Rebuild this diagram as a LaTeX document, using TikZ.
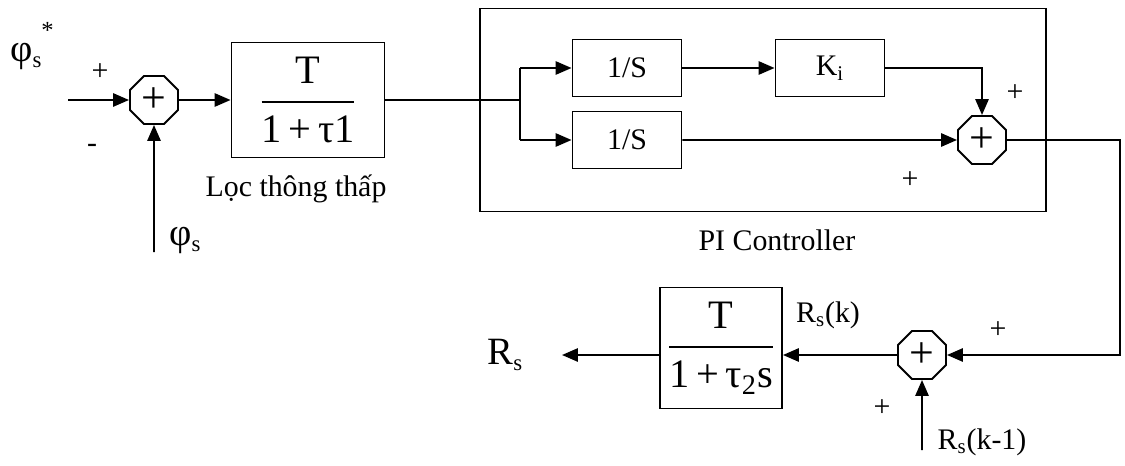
\documentclass[tikz,border=0pt]{standalone}
\usepackage{amsmath}
\usepackage{fontspec}
\setmainfont{Liberation Serif}
\usetikzlibrary{arrows.meta, shapes.geometric}

\begin{document}
\begin{tikzpicture}[
  x=0.02cm, y=-0.02cm,
  box/.style={draw, line width=1.1pt, minimum width=2.18cm, minimum height=1.14cm,
              inner sep=0pt, font=\fontsize{17}{20}\selectfont},
  fracbox/.style={draw, line width=1.1pt, inner sep=0pt, font=\fontsize{23}{27}\selectfont},
  sumnode/.style={draw, line width=1.1pt, regular polygon, regular polygon sides=8,
                  minimum size=1.04cm, inner sep=0pt, font=\fontsize{25}{25}\selectfont},
  arr/.style={-{Triangle[length=9pt, width=7.5pt]}, line width=1.1pt},
  wire/.style={line width=0.8pt},
  sgn/.style={font=\fontsize{17}{17}\selectfont, inner sep=0pt},
  lbl/.style={font=\fontsize{17}{20}\selectfont, inner sep=0pt}
]
\useasboundingbox (0,0) rectangle (1125,466);

% ── INPUT + LOW-PASS FILTER ───────────────────────────────────────────────────
\node[sumnode] (s1) at (154,100) {+};
\coordinate (ref) at (68,100);
\coordinate (meas) at (154,252);

\node[fracbox, minimum width=3.06cm, minimum height=2.3cm] (lpf) at (308,100)
  {$\displaystyle\genfrac{}{}{1pt}{0}{\text{T}}{\text{1\,+\,τ1}}$};
\node[lbl] (lpflbl) at (296,189) {Lọc thông thấp};

\node[font=\fontsize{22}{26}\selectfont, inner sep=0pt] (phiref) at (32,46)
  {φ\raisebox{-0.35ex}{\fontsize{13}{13}\selectfont s}\raisebox{1.3ex}{\fontsize{14}{14}\selectfont *}};
\node[font=\fontsize{22}{26}\selectfont, inner sep=0pt] (phimeas) at (185,240)
  {φ\raisebox{-0.35ex}{\fontsize{13}{13}\selectfont s}};
\node[sgn] (p1) at (100,72) {+};
\node[sgn] (m1) at (92,148) {-};

\draw[arr] (ref) -- (s1.west);
\draw[arr] (meas) -- (s1.south);
\draw[arr] (s1.east) -- (lpf.west);

% ── PI CONTROLLER ─────────────────────────────────────────────────────────────
\node[draw, line width=1.1pt, minimum width=11.32cm, minimum height=4.06cm] (pi) at (763,110) {};
\node[lbl] (pilbl) at (777,240) {PI Controller};

\node[box] (int1) at (627,68) {1/S};
\node[box] (int2) at (627,140) {1/S};
\node[box] (ki)   at (830,68) {K\textsubscript{i}};
\node[sumnode] (s2) at (982,140) {+};
\node[sgn] (p2) at (1015,93) {+};
\node[sgn] (p3) at (910,180) {+};

\coordinate (br)    at (520,100);
\coordinate (brtop) at (520,68);
\coordinate (brbot) at (520,140);

\draw[wire] (lpf.east) -- (br);
\draw[wire] (brtop) -- (brbot);
\draw[arr] (brtop) -- (int1.west);
\draw[arr] (brbot) -- (int2.west);
\draw[arr] (int1.east) -- (ki.west);
\draw[arr] (ki.east) -| (s2.north);
\draw[arr] (int2.east) -- (s2.west);

% ── OUTPUT FILTER ─────────────────────────────────────────────────────────────
\node[sumnode] (s3) at (922,355) {+};
\node[fracbox, minimum width=2.44cm, minimum height=2.42cm] (opf) at (721,348)
  {$\displaystyle\genfrac{}{}{1pt}{0}{\text{T}}{\text{1\,+\,τ\textsubscript{2}s}}$};
\node[sgn] (p4) at (998,330) {+};
\node[sgn] (p5) at (882,408) {+};

\coordinate (rt)   at (1120,140);
\coordinate (prev) at (922,450);
\coordinate (out)  at (562,355);

\node[lbl] (rsk)  at (828,315) {R\textsubscript{s}(k)};
\node[lbl] (rsk1) at (982,442) {R\textsubscript{s}(k-1)};
\node[font=\fontsize{22}{26}\selectfont, inner sep=0pt] (rs) at (505,355)
  {R\raisebox{-0.35ex}{\fontsize{13}{13}\selectfont s}};

\draw[arr] (s2.east) -- (rt) |- (s3.east);
\draw[arr] (prev) -- (s3.south);
\draw[arr] (s3.west) -- (s3.west -| opf.east);
\draw[arr] (s3.west -| opf.west) -- (out);

\end{tikzpicture}
\end{document}
